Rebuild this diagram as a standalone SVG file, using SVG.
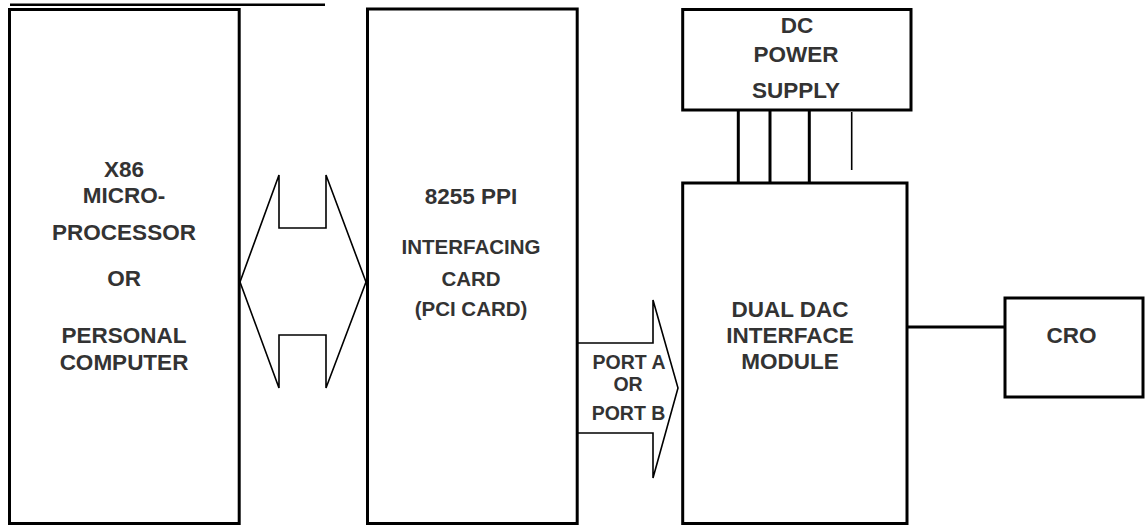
<svg xmlns="http://www.w3.org/2000/svg" width="1146" height="531" viewBox="0 0 1146 531">
<style>
.box{fill:none;stroke:#000;stroke-width:3}
.thin{fill:none;stroke:#000;stroke-width:1.6;stroke-linejoin:miter}
.wire{fill:none;stroke:#000;stroke-width:3}
text{font-family:"Liberation Sans",Arial,sans-serif;font-weight:bold;fill:#333;text-anchor:middle}
.l{font-size:22.5px}
.m{font-size:20.5px}
.p{font-size:19.5px}
</style>
<rect width="1146" height="531" fill="#fff"/>
<line x1="10" y1="4.8" x2="325" y2="4.8" stroke="#000" stroke-width="2.5"/>
<g id="microprocessor">
<rect class="box" x="9.5" y="9.5" width="229.7" height="514"/>
<text class="l" x="124" y="176.7">X86</text>
<text class="l" x="124" y="203.3">MICRO-</text>
<text class="l" x="124" y="240">PROCESSOR</text>
<text class="l" x="124" y="286">OR</text>
<text class="l" x="124" y="342.7">PERSONAL</text>
<text class="l" x="124" y="370">COMPUTER</text>
</g>
<g id="ppi">
<rect class="box" x="367.5" y="9" width="209.7" height="514.5"/>
<text class="l" x="471" y="204.3">8255 PPI</text>
<text class="m" x="471" y="254.3">INTERFACING</text>
<text class="m" x="471" y="286">CARD</text>
<text class="m" x="471" y="316">(PCI CARD)</text>
</g>
<g id="power">
<rect class="box" x="682.7" y="9.5" width="228.3" height="100.5"/>
<text class="l" x="797" y="33.3">DC</text>
<text class="l" x="796" y="61.7">POWER</text>
<text class="l" x="796" y="98.3">SUPPLY</text>
</g>
<g id="dac">
<rect class="box" x="682.7" y="183" width="224.3" height="340.5"/>
<text class="l" x="790" y="316.7">DUAL DAC</text>
<text class="l" x="790" y="342.7">INTERFACE</text>
<text class="l" x="790" y="369.3">MODULE</text>
</g>
<g id="cro">
<rect class="box" x="1005" y="298" width="138" height="99"/>
<text class="l" x="1071.5" y="342.7">CRO</text>
</g>
<g id="connectors">
<polygon class="thin" points="240,282 279,175 279,228 326,228 326,175 366,282 326,388 326,335 279,335 279,388"/>
<polyline class="thin" points="577,343 653,343 653,300 678,388 653,478 653,433 577,433"/>
<text class="p" x="629" y="368.5">PORT A</text>
<text class="p" x="628" y="391">OR</text>
<text class="p" x="628.5" y="420">PORT B</text>
<line class="wire" x1="738.3" y1="110" x2="738.3" y2="183"/>
<line class="wire" x1="770" y1="110" x2="770" y2="183"/>
<line class="wire" x1="809.3" y1="110" x2="809.3" y2="183"/>
<line x1="851.7" y1="112" x2="851.7" y2="170" stroke="#000" stroke-width="1.6"/>
<line class="wire" x1="907" y1="327" x2="1005" y2="327"/>
</g>
</svg>
